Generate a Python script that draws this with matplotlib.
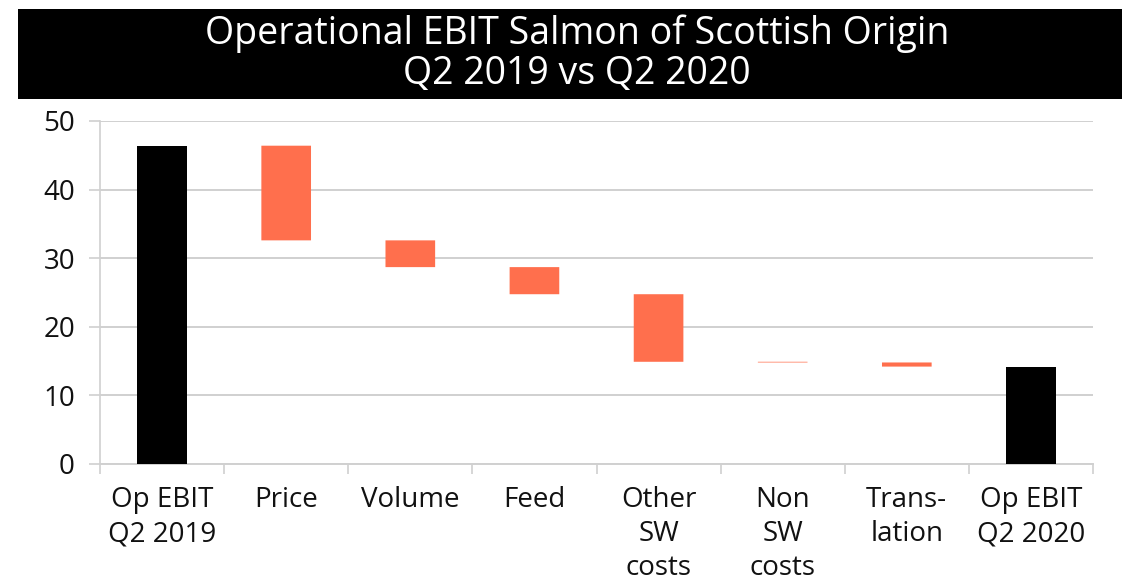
import matplotlib
matplotlib.use("Agg")
import matplotlib.pyplot as plt
from matplotlib.patches import Rectangle
import numpy as np

# Bridge categories and values (NOK million)
categories = ["Op EBIT\nQ2 2019", "Price", "Volume", "Feed", "Other\nSW\ncosts",
              "Non\nSW\ncosts", "Trans-\nlation", "Op EBIT\nQ2 2020"]
start_value = 46.4
changes = [-13.8, -3.9, -3.95, -9.85, -0.1, -0.6]
end_value = 14.2
y_ticks = [0, 10, 20, 30, 40, 50]

title_lines = ["Operational EBIT Salmon of Scottish Origin", "Q2 2019 vs Q2 2020"]

TOTAL_COLOR = "#000000"
DELTA_COLOR = "#FF6F4D"
GRID_COLOR = "#D0D0D0"
FONT = ["Open Sans", "DejaVu Sans"]

plt.rcParams["font.family"] = FONT

fig = plt.figure(figsize=(11.22, 5.82), dpi=100)
ax = fig.add_axes([100 / 1122, 118 / 582, 993 / 1122, 343 / 582])

x = np.arange(len(categories))
width = 0.4

# Total bars
ax.bar(x[0], start_value, width=width, color=TOTAL_COLOR, zorder=3)
ax.bar(x[-1], end_value, width=width, color=TOTAL_COLOR, zorder=3)

# Floating change bars
level = start_value
for i, ch in enumerate(changes, start=1):
    new_level = level + ch
    bottom = min(level, new_level)
    ax.bar(x[i], abs(ch), bottom=bottom, width=width, color=DELTA_COLOR,
           zorder=3, snap=False)
    level = new_level

ax.set_xlim(-0.5, len(categories) - 0.5)
ax.set_ylim(0, 50)
ax.set_yticks(y_ticks)
ax.set_yticklabels([str(v) for v in y_ticks], fontsize=20, color="#111111")
ax.set_xticks(x)
ax.set_xticklabels(categories, fontsize=20, color="#111111", linespacing=1.28)
ax.set_xticks(np.arange(-0.5, len(categories)), minor=True)

ax.tick_params(axis="x", which="major", length=0, pad=16)
ax.tick_params(axis="x", which="minor", length=7, width=1.2, color=GRID_COLOR)
ax.tick_params(axis="y", length=8, width=1.2, color=GRID_COLOR, pad=10)

ax.grid(axis="y", color=GRID_COLOR, linewidth=1.4, zorder=0)
ax.set_axisbelow(True)
for side in ["top", "right"]:
    ax.spines[side].set_visible(False)
ax.spines["left"].set_color(GRID_COLOR)
ax.spines["left"].set_linewidth(1.2)
ax.spines["bottom"].set_color(GRID_COLOR)
ax.spines["bottom"].set_linewidth(1.4)

# Title banner
fig.patches.append(Rectangle((18 / 1122, (582 - 99) / 582), 1 - 18 / 1122, 90 / 582,
                             transform=fig.transFigure, facecolor="black",
                             edgecolor="none", zorder=0))
fig.text(577 / 1122, (582 - 34) / 582, title_lines[0], color="white", fontsize=27,
         ha="center", va="center")
fig.text(577 / 1122, (582 - 74) / 582, title_lines[1], color="white", fontsize=27,
         ha="center", va="center")

fig.savefig("out.png", dpi=100)
